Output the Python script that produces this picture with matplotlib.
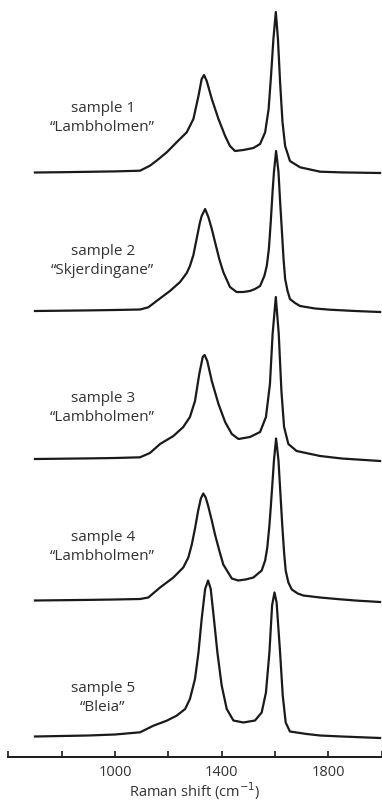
import matplotlib
matplotlib.use("Agg")
import matplotlib.pyplot as plt
from matplotlib.ticker import FixedLocator, NullFormatter

# Raman shift (cm-1) and intensity (a.u.), one pair per sample
shift_1 = [700, 800, 900, 1000, 1094, 1131, 1156, 1194, 1231, 1269, 1294, 1313, 1325, 1334, 1344, 1363,
           1388, 1413, 1431, 1450, 1481, 1519, 1544, 1563, 1576, 1585, 1594, 1603, 1611, 1619, 1628,
           1638, 1656, 1694, 1769, 1850, 1994]
int_1 = [0.5, 0.8, 1.2, 1.6, 2.3, 7.3, 12.3, 20.7, 30.7, 40.7, 54, 77, 94, 98, 92, 74,
         54, 37, 27, 22, 23, 25, 29, 40.7, 64, 97, 134, 161, 134, 91, 51,
         27, 12, 5.7, 1.3, 0.6, 0]

shift_2 = [700, 800, 900, 1000, 1094, 1125, 1156, 1206, 1244, 1269, 1281, 1294, 1306, 1318, 1325, 1338,
           1350, 1363, 1375, 1391, 1406, 1431, 1456, 1481, 1506, 1525, 1544, 1560, 1569, 1577, 1584,
           1591, 1596, 1604, 1613, 1619, 1626, 1632, 1638, 1647, 1656, 1675, 1694, 1750, 1806, 1900, 1994]
int_2 = [0, 0.3, 0.6, 1, 1.5, 3.7, 10, 20, 29, 38, 45, 56, 72, 88, 95, 102,
         94, 82, 69, 52, 39, 24, 19, 19, 20, 22, 25, 35, 45, 62, 89,
         120, 139, 160, 139, 110, 79, 52, 32, 20, 12, 8, 5, 2.5, 1.3, 0, -1]

shift_3 = [700, 800, 900, 1000, 1094, 1131, 1169, 1219, 1256, 1281, 1300, 1316, 1329, 1336, 1346, 1363,
           1388, 1413, 1438, 1463, 1506, 1544, 1566, 1581, 1591, 1603, 1614, 1624, 1634, 1650, 1681,
           1769, 1850, 1994]
int_3 = [0, 0.3, 0.6, 1, 1.7, 6, 15, 23, 32, 42, 58, 85, 102, 104, 98, 78,
         55, 37, 25, 20, 22, 27, 42, 75, 125, 162, 125, 68, 32, 15, 8,
         3, 0.5, -2]

shift_4 = [700, 800, 900, 1000, 1094, 1125, 1169, 1219, 1256, 1275, 1288, 1300, 1312, 1322, 1331, 1340,
           1348, 1363, 1375, 1391, 1406, 1438, 1462, 1490, 1519, 1550, 1563, 1571, 1579, 1584, 1591,
           1596, 1604, 1613, 1620, 1627, 1634, 1640, 1650, 1663, 1685, 1706, 1769, 1831, 1900, 1994]
int_4 = [0, 0.3, 0.6, 1, 1.5, 3, 13, 23, 33, 43, 56, 72, 90, 102, 107, 103,
         96, 80, 66, 50, 36, 22, 20, 21, 23, 30, 40, 53, 75, 93, 120,
         140, 162, 140, 108, 76, 48, 30, 18, 11, 7, 5, 3, 1.5, 0, -1.5]

shift_5 = [700, 800, 900, 1000, 1094, 1144, 1194, 1231, 1263, 1281, 1300, 1313, 1325, 1338, 1349, 1359,
           1371, 1384, 1400, 1419, 1444, 1481, 1525, 1550, 1566, 1579, 1589, 1598, 1606, 1619, 1629,
           1640, 1656, 1719, 1769, 1850, 1994]
int_5 = [0, 0.5, 1, 2, 4.2, 10.8, 15.8, 20.8, 27.5, 37.5, 57.5, 84, 117.5, 147.5, 156, 147.5,
         117.5, 84, 51, 27.5, 16, 14, 16, 24, 44, 84, 131, 144, 134, 84, 41,
         14, 5, 2.5, 1, 0, -1.5]

names = ["sample 1\n\u201cLambholmen\u201d", "sample 2\n\u201cSkjerdingane\u201d",
         "sample 3\n\u201cLambholmen\u201d", "sample 4\n\u201cLambholmen\u201d",
         "sample 5\n\u201cBleia\u201d"]

shifts = [shift_1, shift_2, shift_3, shift_4, shift_5]
intensities = [int_1, int_2, int_3, int_4, int_5]

# vertical stacking offsets and label heights
offsets = [584, 446, 298, 156.5, 20.5]
label_y = [640, 497, 350, 211, 60]

plt.rcParams["font.family"] = ["Open Sans", "DejaVu Sans"]

fig = plt.figure(figsize=(3.82, 8.03), dpi=100)
ax = fig.add_axes([8.3 / 382, 45 / 803, (381.7 - 8.3) / 382, 758 / 803])

for x, y, off, name, ly in zip(shifts, intensities, offsets, names, label_y):
    ax.plot(x, [v + off for v in y], color="#1a1a1a", lw=1.6, solid_joinstyle="round")
    ax.text(954, ly, name, ha="center", va="center",
            fontsize=11, color="#333333", linespacing=1.3)

ax.set_xlim(600, 2000)
ax.set_ylim(0, 758)

for side in ["top", "right", "left"]:
    ax.spines[side].set_visible(False)
ax.spines["bottom"].set_linewidth(1.4)
ax.spines["bottom"].set_color("#1a1a1a")

ax.set_yticks([])
ax.xaxis.set_major_locator(FixedLocator([1000, 1400, 1800]))
ax.xaxis.set_minor_locator(FixedLocator([600, 800, 1200, 1600, 2000]))
ax.xaxis.set_minor_formatter(NullFormatter())
ax.tick_params(axis="x", which="both", direction="in", length=4, width=1.2,
               color="#1a1a1a", labelsize=10.5, labelcolor="#333333", pad=5)
ax.set_xlabel("Raman shift (cm$^{-1}$)", fontsize=10.5, color="#333333", labelpad=0)
ax.patch.set_alpha(0)

fig.savefig("out.png", dpi=100)
